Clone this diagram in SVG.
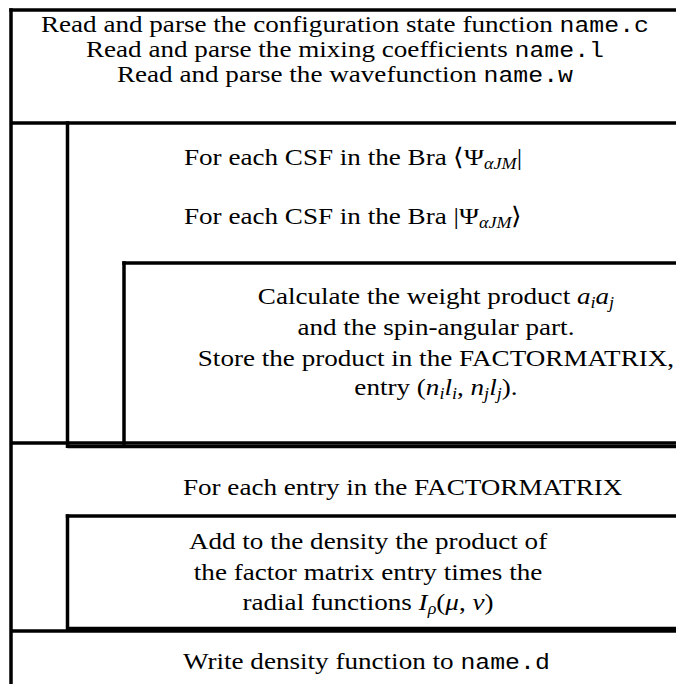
<svg xmlns="http://www.w3.org/2000/svg" width="676" height="684" viewBox="0 0 676 684">
<style>
.ln{stroke:#000;stroke-width:3.5;fill:none;stroke-linecap:butt}
.t{font-family:"Liberation Serif","Times New Roman",serif;font-size:24px;fill:#000}
.m{font-family:"Liberation Mono","Courier New",monospace;font-size:22px}
.i{font-style:italic}
.s{font-size:16px;font-style:italic}
</style>
<rect width="676" height="684" fill="#fff"/>
<g id="connectors">
<line class="ln" x1="11" y1="8.25" x2="11" y2="684"/>
<line class="ln" x1="9.25" y1="10" x2="676" y2="10"/>
<line class="ln" x1="11" y1="123" x2="676" y2="123"/>
<line class="ln" x1="11" y1="443" x2="676" y2="443"/>
<line class="ln" x1="11" y1="631" x2="676" y2="631"/>
</g>
<g id="header">
<text class="t" transform="scale(1.13 1)" x="305.3" y="32" text-anchor="middle">Read and parse the configuration state function <tspan class="m">name.c</tspan></text>
<text class="t" transform="scale(1.13 1)" x="305.3" y="57" text-anchor="middle">Read and parse the mixing coefficients <tspan class="m">name.l</tspan></text>
<text class="t" transform="scale(1.13 1)" x="305.3" y="82" text-anchor="middle">Read and parse the wavefunction <tspan class="m">name.w</tspan></text>
</g>
<g id="loop-bra-ket">
<line class="ln" x1="67.5" y1="121.25" x2="67.5" y2="448"/>
<line class="ln" x1="67.5" y1="446.5" x2="676" y2="446.5"/>
<text class="t" transform="scale(1.13 1)" x="162.8" y="165">For each CSF in the Bra ⟨Ψ<tspan class="s" dy="4">αJM</tspan><tspan dy="-4">|</tspan></text>
<text class="t" transform="scale(1.13 1)" x="162.8" y="224">For each CSF in the Bra |Ψ<tspan class="s" dy="4">αJM</tspan><tspan dy="-4">⟩</tspan></text>
</g>
<g id="calc-block">
<line class="ln" x1="124" y1="261.25" x2="124" y2="445"/>
<line class="ln" x1="122.25" y1="263" x2="676" y2="263"/>
<text class="t" transform="scale(1.13 1)" x="385.8" y="304" text-anchor="middle">Calculate the weight product <tspan class="i">a</tspan><tspan class="s" dy="4">i</tspan><tspan class="i" dy="-4">a</tspan><tspan class="s" dy="4">j</tspan></text>
<text class="t" transform="scale(1.13 1)" x="385.8" y="335" text-anchor="middle">and the spin-angular part.</text>
<text class="t" transform="scale(1.13 1)" x="385.8" y="366" text-anchor="middle">Store the product in the FACTORMATRIX,</text>
<text class="t" transform="scale(1.13 1)" x="385.8" y="395" text-anchor="middle">entry (<tspan class="i">n</tspan><tspan class="s" dy="4">i</tspan><tspan class="i" dy="-4">l</tspan><tspan class="s" dy="4">i</tspan><tspan dy="-4">, </tspan><tspan class="i">n</tspan><tspan class="s" dy="4">j</tspan><tspan class="i" dy="-4">l</tspan><tspan class="s" dy="4">j</tspan><tspan dy="-4">).</tspan></text>
</g>
<g id="loop-factormatrix">
<text class="t" transform="scale(1.13 1)" x="161.9" y="495">For each entry in the FACTORMATRIX</text>
</g>
<g id="density-block">
<line class="ln" x1="67.5" y1="514.25" x2="67.5" y2="630"/>
<line class="ln" x1="65.75" y1="516" x2="676" y2="516"/>
<line class="ln" x1="67.5" y1="628.5" x2="676" y2="628.5"/>
<text class="t" transform="scale(1.13 1)" x="325.7" y="549" text-anchor="middle">Add to the density the product of</text>
<text class="t" transform="scale(1.13 1)" x="325.7" y="580" text-anchor="middle">the factor matrix entry times the</text>
<text class="t" transform="scale(1.13 1)" x="325.7" y="610" text-anchor="middle">radial functions <tspan class="i">I</tspan><tspan class="s" dy="4">ρ</tspan><tspan dy="-4">(</tspan><tspan class="i">μ</tspan>, <tspan class="i">ν</tspan>)</text>
</g>
<g id="write-output">
<text class="t" transform="scale(1.13 1)" x="161.9" y="669">Write density function to <tspan class="m">name.d</tspan></text>
</g>
</svg>
